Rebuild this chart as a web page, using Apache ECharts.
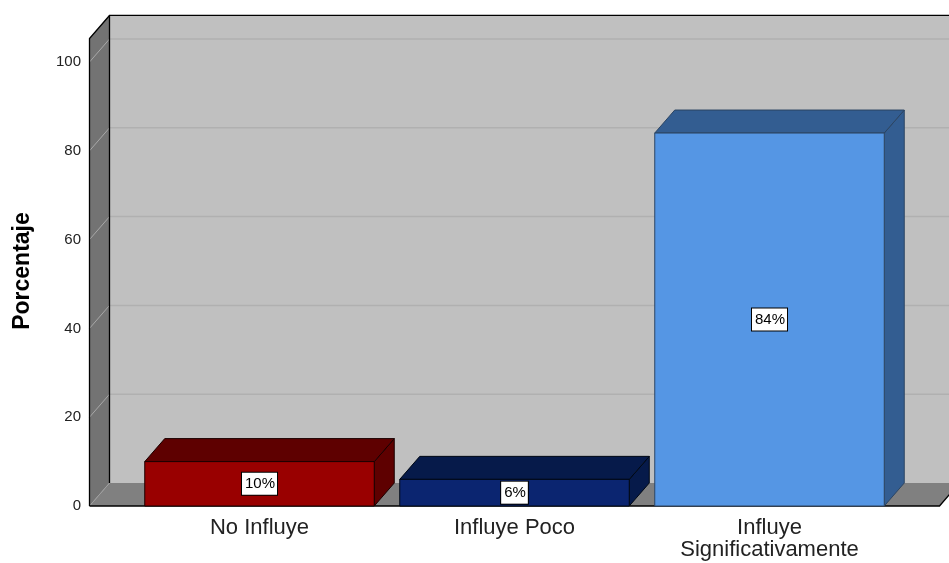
<!DOCTYPE html>
<html>
<head>
<meta charset="utf-8">
<script src="https://cdn.jsdelivr.net/npm/echarts@6/dist/echarts.min.js"></script>
<style>
    html, body { margin: 0; padding: 0; background: #fff; }
    #chart { width: 949px; height: 563px; }
</style>
</head>
<body>
<div id="chart"></div>
<script>
    // datos del gráfico
    const categories = ['No Influye', 'Influye Poco', 'Influye\nSignificativamente'];
    const values = [10, 6, 84];
    const yTicks = [0, 20, 40, 60, 80, 100];

    // estilo 3D
    const DX = 20;          // profundidad horizontal
    const DY = 23;          // profundidad vertical
    const PAD = 42.5;       // margen del suelo a cada lado de las categorías
    const WALL_TOP = 105.3; // altura de las paredes en unidades del eje
    const frontColors = ['#990000', '#0b2570', '#5596e4'];
    const sideColors = ['#5e0000', '#061a4a', '#335d91'];
    const edgeColors = ['#1a0000', '#000814', '#2c4563'];

    let myChart = echarts.init(document.getElementById('chart'));

    function renderWalls(params, api) {
        if (params.dataIndex !== 0) return;
        let cs = params.coordSys;
        let left = cs.x - PAD;
        let right = cs.x + cs.width + PAD;
        let y0 = api.coord([0, 0])[1];
        let yTop = api.coord([0, WALL_TOP])[1];
        let children = [];
        // pared del fondo
        children.push({
            type: 'polygon',
            shape: {points: [[left + DX, yTop - DY], [right + DX + 40, yTop - DY], [right + DX + 40, y0 - DY], [left + DX, y0 - DY]]},
            style: {fill: '#c0c0c0'}
        });
        // pared izquierda
        children.push({
            type: 'polygon',
            shape: {points: [[left, yTop], [left + DX, yTop - DY], [left + DX, y0 - DY], [left, y0]]},
            style: {fill: '#737373'}
        });
        // suelo
        children.push({
            type: 'polygon',
            shape: {points: [[left, y0], [left + DX, y0 - DY], [right + DX, y0 - DY], [right, y0]]},
            style: {fill: '#808080'}
        });
        // líneas de cuadrícula
        yTicks.forEach(function (v) {
            if (v === 0) return;
            let y = api.coord([0, v])[1];
            children.push({
                type: 'line',
                shape: {x1: left, y1: y, x2: left + DX, y2: y - DY},
                style: {stroke: '#a8a8a8', lineWidth: 1}
            });
            children.push({
                type: 'line',
                shape: {x1: left + DX, y1: y - DY, x2: right + DX + 40, y2: y - DY},
                style: {stroke: '#b0b0b0', lineWidth: 1.5}
            });
        });
        // bordes
        children.push({
            type: 'line',
            shape: {x1: left, y1: y0, x2: left + DX, y2: y0 - DY},
            style: {stroke: '#a0a0a0', lineWidth: 1}
        });
        children.push({
            type: 'polyline',
            shape: {points: [[left, y0], [left, yTop], [left + DX, yTop - DY], [right + DX + 40, yTop - DY]]},
            style: {stroke: '#000', lineWidth: 1.3, fill: null}
        });
        children.push({
            type: 'line',
            shape: {x1: left + DX, y1: yTop - DY, x2: left + DX, y2: y0 - DY},
            style: {stroke: '#000', lineWidth: 1.3}
        });
        children.push({
            type: 'polyline',
            shape: {points: [[left, y0], [right, y0], [right + DX, y0 - DY]]},
            style: {stroke: '#000', lineWidth: 1.3, fill: null}
        });
        return {type: 'group', children: children};
    }

    function renderBar(params, api) {
        let i = params.dataIndex;
        let base = api.coord([api.value(0), 0]);
        let top = api.coord([api.value(0), api.value(1)]);
        let w = api.size([1, 0])[0] * 0.9;
        let l = base[0] - w / 2;
        let r = base[0] + w / 2;
        let y0 = base[1];
        let y1 = top[1];
        let edge = {stroke: edgeColors[i], lineWidth: 1};
        return {
            type: 'group',
            children: [{
                type: 'polygon',
                shape: {points: [[r, y1], [r + DX, y1 - DY], [r + DX, y0 - DY], [r, y0]]},
                style: Object.assign({fill: sideColors[i]}, edge)
            }, {
                type: 'polygon',
                shape: {points: [[l, y1], [l + DX, y1 - DY], [r + DX, y1 - DY], [r, y1]]},
                style: Object.assign({fill: sideColors[i]}, edge)
            }, {
                type: 'rect',
                shape: {x: l, y: y1, width: w, height: y0 - y1},
                style: Object.assign({fill: frontColors[i]}, edge)
            }, {
                type: 'text',
                x: base[0],
                y: (y0 + y1) / 2,
                style: {
                    text: api.value(1) + '%',
                    fill: '#000',
                    font: '15px "Liberation Sans", Arial, sans-serif',
                    align: 'center',
                    verticalAlign: 'middle',
                    backgroundColor: '#fff',
                    borderColor: '#000',
                    borderWidth: 1,
                    padding: [4, 2, 3, 3]
                }
            }]
        };
    }

    let option = {
        backgroundColor: '#fff',
        animation: false,
        grid: {
            left: 132,
            right: 52,
            top: 62,
            bottom: 57,
            containLabel: false
        },
        xAxis: {
            type: 'category',
            data: categories,
            axisLine: {show: false},
            axisTick: {show: false},
            axisLabel: {
                interval: 0,
                margin: 11,
                color: '#222',
                fontSize: 22,
                lineHeight: 22,
                fontFamily: '"Liberation Sans", Arial, sans-serif'
            }
        },
        yAxis: {
            type: 'value',
            min: 0,
            max: 100,
            interval: 20,
            offset: 42,
            name: 'Porcentaje',
            nameLocation: 'middle',
            nameGap: 56,
            nameRotate: 90,
            nameTextStyle: {
                color: '#000',
                fontSize: 23,
                fontWeight: 'bold',
                fontFamily: '"Liberation Sans", Arial, sans-serif',
                padding: [0, 0, 0, 26]
            },
            axisLine: {show: false},
            axisTick: {show: false},
            splitLine: {show: false},
            axisLabel: {
                margin: 9,
                color: '#222',
                fontSize: 15,
                fontFamily: '"Liberation Sans", Arial, sans-serif'
            }
        },
        series: [{
            type: 'custom',
            name: 'paredes',
            silent: true,
            z: 1,
            renderItem: renderWalls,
            data: [[0, 0]]
        }, {
            type: 'custom',
            name: 'Porcentaje',
            z: 2,
            renderItem: renderBar,
            encode: {x: 0, y: 1},
            data: values.map(function (v, i) { return [i, v]; })
        }]
    };
    myChart.setOption(option);
</script>
</body>
</html>
